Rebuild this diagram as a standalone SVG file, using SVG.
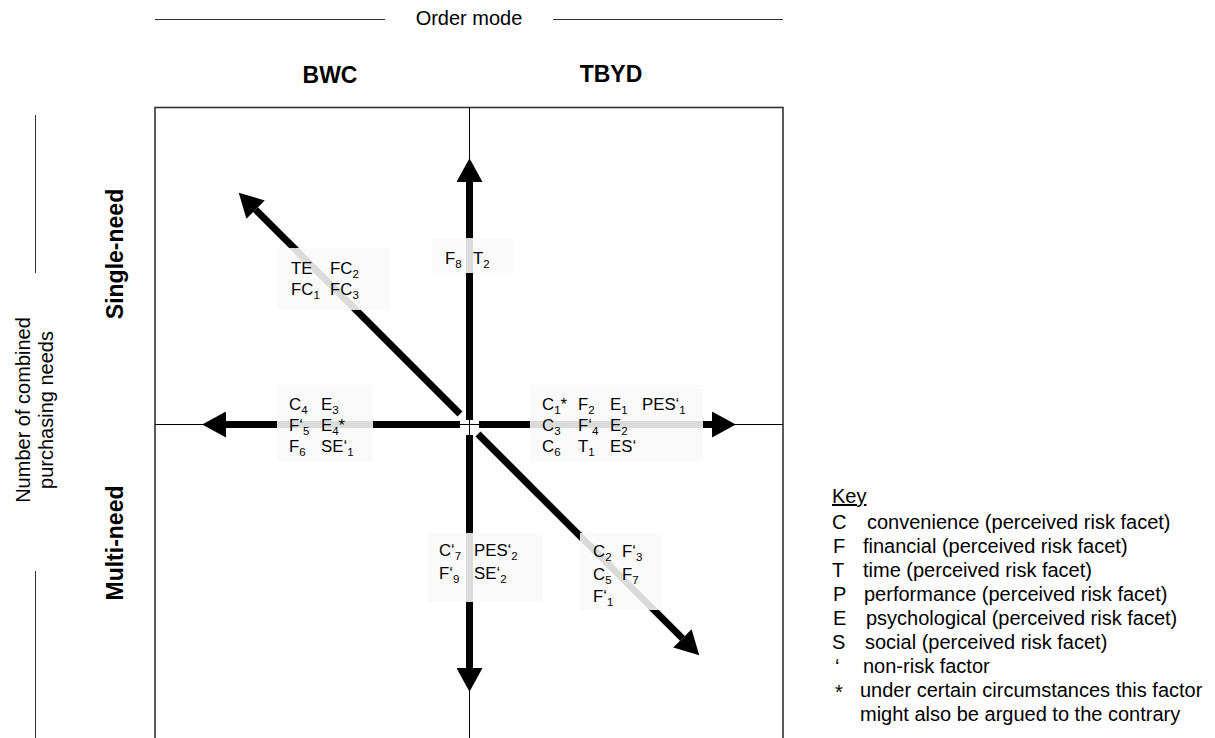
<svg xmlns="http://www.w3.org/2000/svg" width="1215" height="738" viewBox="0 0 1215 738">
<style>
text{font-family:"Liberation Sans",Arial,sans-serif;fill:#000}
.lab{font-size:16.8px}
.sub{font-size:11.5px}
.hdr{font-size:20px}
.bold{font-size:23px;font-weight:bold}
.key{font-size:20px}
.ax{stroke:#000;stroke-width:1;fill:none}
.rule{stroke:#333;stroke-width:1;fill:none}
.shaft{stroke:#000;stroke-width:7;fill:none;marker-end:url(#head)}
.lbox{fill:#f9f9f9;fill-opacity:0.88}
</style>
<defs>
<marker id="head" markerUnits="userSpaceOnUse" markerWidth="24" markerHeight="26" viewBox="0 0 22 24" refX="0" refY="12" orient="auto">
<path d="M0,0 L22,12 L0,24 Z" fill="#000"/>
</marker>
</defs>
<rect width="1215" height="738" fill="#fff"/>

<g id="header">
<line class="rule" x1="155" y1="19.5" x2="385" y2="19.5"/>
<line class="rule" x1="553" y1="19.5" x2="783" y2="19.5"/>
<text class="hdr" x="469" y="25" text-anchor="middle">Order mode</text>
<text class="bold" x="330" y="83" text-anchor="middle">BWC</text>
<text class="bold" x="611" y="82" text-anchor="middle">TBYD</text>
</g>

<g id="side">
<line class="rule" x1="35.5" y1="115" x2="35.5" y2="273"/>
<line class="rule" x1="35.5" y1="571" x2="35.5" y2="738"/>
<text class="hdr" transform="translate(30,410) rotate(-90)" text-anchor="middle">Number of combined</text>
<text class="hdr" transform="translate(53,410) rotate(-90)" text-anchor="middle">purchasing needs</text>
<text class="bold" transform="translate(123,254) rotate(-90)" text-anchor="middle">Single-need</text>
<text class="bold" transform="translate(123,543) rotate(-90)" text-anchor="middle">Multi-need</text>
</g>

<g id="frame">
<rect x="155" y="107.5" width="628" height="660" fill="none" stroke="#333" stroke-width="1.6"/>
<line class="ax" x1="469.5" y1="107" x2="469.5" y2="768"/>
<line class="ax" x1="155" y1="424.5" x2="783" y2="424.5"/>
</g>

<g id="connectors">
<line class="shaft" x1="469.5" y1="420" x2="469.5" y2="182"/>
<line class="shaft" x1="479" y1="424.5" x2="712" y2="424.5"/>
<line class="shaft" x1="460" y1="424.5" x2="226" y2="424.5"/>
<line class="shaft" x1="469.5" y1="435" x2="469.5" y2="668"/>
<line class="shaft" x1="460" y1="414" x2="255.6" y2="209.6"/>
<line class="shaft" x1="478" y1="434" x2="682.4" y2="638.4"/>
</g>

<g id="node-ul">
<rect class="lbox" x="277" y="248" width="113" height="62"/>
<text class="lab" x="291" y="274">TE</text>
<text class="lab" x="330" y="274">FC<tspan class="sub" dy="4">2</tspan></text>
<text class="lab" x="291" y="295">FC<tspan class="sub" dy="4">1</tspan></text>
<text class="lab" x="330" y="295">FC<tspan class="sub" dy="4">3</tspan></text>
</g>

<g id="node-up">
<rect class="lbox" x="432" y="238" width="81" height="35"/>
<text class="lab" x="445" y="264">F<tspan class="sub" dy="4">8</tspan></text>
<text class="lab" x="473" y="264">T<tspan class="sub" dy="4">2</tspan></text>
</g>

<g id="node-left">
<rect class="lbox" x="277" y="385" width="96" height="77"/>
<text class="lab" x="289" y="410">C<tspan class="sub" dy="4">4</tspan></text>
<text class="lab" x="321" y="410">E<tspan class="sub" dy="4">3</tspan></text>
<text class="lab" x="289" y="431">F‘<tspan class="sub" dy="4">5</tspan></text>
<text class="lab" x="321" y="431">E<tspan class="sub" dy="4">4</tspan><tspan dy="-4">*</tspan></text>
<text class="lab" x="289" y="452">F<tspan class="sub" dy="4">6</tspan></text>
<text class="lab" x="321" y="452">SE‘<tspan class="sub" dy="4">1</tspan></text>
</g>

<g id="node-right">
<rect class="lbox" x="530" y="385" width="173" height="77"/>
<text class="lab" x="542" y="410">C<tspan class="sub" dy="4">1</tspan><tspan dy="-4">*</tspan></text>
<text class="lab" x="578" y="410">F<tspan class="sub" dy="4">2</tspan></text>
<text class="lab" x="610" y="410">E<tspan class="sub" dy="4">1</tspan></text>
<text class="lab" x="642" y="410">PES‘<tspan class="sub" dy="4">1</tspan></text>
<text class="lab" x="542" y="431">C<tspan class="sub" dy="4">3</tspan></text>
<text class="lab" x="578" y="431">F‘<tspan class="sub" dy="4">4</tspan></text>
<text class="lab" x="610" y="431">E<tspan class="sub" dy="4">2</tspan></text>
<text class="lab" x="542" y="452">C<tspan class="sub" dy="4">6</tspan></text>
<text class="lab" x="578" y="452">T<tspan class="sub" dy="4">1</tspan></text>
<text class="lab" x="610" y="452">ES‘</text>
</g>

<g id="node-down">
<rect class="lbox" x="427" y="533" width="116" height="69"/>
<text class="lab" x="439" y="556">C‘<tspan class="sub" dy="4">7</tspan></text>
<text class="lab" x="474" y="556">PES‘<tspan class="sub" dy="4">2</tspan></text>
<text class="lab" x="439" y="579">F‘<tspan class="sub" dy="4">9</tspan></text>
<text class="lab" x="474" y="579">SE‘<tspan class="sub" dy="4">2</tspan></text>
</g>

<g id="node-dr">
<rect class="lbox" x="580" y="533" width="82" height="77"/>
<text class="lab" x="593" y="557">C<tspan class="sub" dy="4">2</tspan></text>
<text class="lab" x="622" y="557">F‘<tspan class="sub" dy="4">3</tspan></text>
<text class="lab" x="593" y="580">C<tspan class="sub" dy="4">5</tspan></text>
<text class="lab" x="622" y="580">F<tspan class="sub" dy="4">7</tspan></text>
<text class="lab" x="593" y="602">F‘<tspan class="sub" dy="4">1</tspan></text>
</g>

<g id="key">
<text class="key" x="832" y="503" text-decoration="underline">Key</text>
<text class="key" x="832" y="529">C</text><text class="key" x="867" y="529">convenience (perceived risk facet)</text>
<text class="key" x="833" y="553">F</text><text class="key" x="863" y="553">financial (perceived risk facet)</text>
<text class="key" x="832" y="577">T</text><text class="key" x="863" y="577">time (perceived risk facet)</text>
<text class="key" x="833" y="601">P</text><text class="key" x="864" y="601">performance (perceived risk facet)</text>
<text class="key" x="833" y="625">E</text><text class="key" x="866" y="625">psychological (perceived risk facet)</text>
<text class="key" x="832" y="649">S</text><text class="key" x="865" y="649">social (perceived risk facet)</text>
<text class="key" x="835" y="673">‘</text><text class="key" x="863" y="673">non-risk factor</text>
<text class="key" x="835" y="699">*</text><text class="key" x="860" y="697">under certain circumstances this factor</text>
<text class="key" x="860" y="721">might also be argued to the contrary</text>
</g>
</svg>
